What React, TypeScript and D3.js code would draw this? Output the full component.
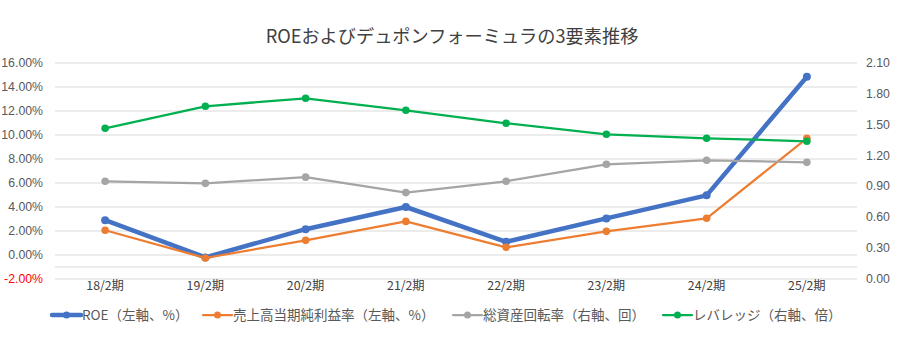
import React from "react";
import * as d3 from "d3";

const categories = ["18/2期", "19/2期", "20/2期", "21/2期", "22/2期", "23/2期", "24/2期", "25/2期"];
const roe = [2.9, -0.2, 2.15, 4.0, 1.1, 3.05, 4.97, 14.86];
const margin = [2.06, -0.25, 1.22, 2.8, 0.64, 1.97, 3.06, 9.72];
const turnover = [0.95, 0.93, 0.99, 0.84, 0.95, 1.115, 1.154, 1.134];
const leverage = [1.465, 1.679, 1.757, 1.64, 1.514, 1.407, 1.368, 1.339];
const leftTicks = [-2, 0, 2, 4, 6, 8, 10, 12, 14, 16];
const rightTicks = [0, 0.3, 0.6, 0.9, 1.2, 1.5, 1.8, 2.1];
const title = "ROEおよびデュポンフォーミュラの3要素推移";
const legendLabels = ["ROE（左軸、%）", "売上高当期純利益率（左軸、%）", "総資産回転率（右軸、回）", "レバレッジ（右軸、倍）"];

const W = 903, H = 337;
const plot = { left: 55, right: 857, top: 63, bottom: 279 };
const FONT = "'Liberation Sans', Arial, sans-serif";
const JFONT = "'Noto Sans CJK JP', 'Liberation Sans', sans-serif";

export default function App() {
  const x = d3.scaleBand<string>().domain(categories).range([plot.left, plot.right]).padding(0);
  const cx = (c: string) => (x(c) as number) + x.bandwidth() / 2;
  const yL = d3.scaleLinear().domain([-2, 16]).range([plot.bottom, plot.top]);
  const yR = d3.scaleLinear().domain([0, 2.1]).range([plot.bottom, plot.top]);

  const series = [
    { name: legendLabels[0], vals: roe, y: yL, color: "#4472C4", w: 4.5, r: 4 },
    { name: legendLabels[1], vals: margin, y: yL, color: "#ED7D31", w: 2.25, r: 3.8 },
    { name: legendLabels[2], vals: turnover, y: yR, color: "#A5A5A5", w: 2.25, r: 3.8 },
    { name: legendLabels[3], vals: leverage, y: yR, color: "#00B050", w: 2.25, r: 3.8 },
  ];

  const legendX = [52, 203, 453, 663];

  return (
    <svg width={W} height={H} style={{ position: "absolute", left: 0, top: 0, background: "#fff" }}>
      <rect x={0} y={0} width={W} height={H} fill="#fff" />
      <text x={452} y={43} textAnchor="middle" fontFamily={JFONT} fontSize={18.2} fill="#404040">{title}</text>
      {leftTicks.map((t) => (
        <line key={"g" + t} x1={plot.left} x2={plot.right} y1={yL(t)} y2={yL(t)} stroke="#D9D9D9" strokeWidth={1} />
      ))}
      <line x1={plot.left} x2={plot.right} y1={yL(-1)} y2={yL(-1)} stroke="#D9D9D9" strokeWidth={1} />
      {leftTicks.map((t) => (
        <text key={"l" + t} x={43} y={yL(t) + 4} textAnchor="end" fontFamily={FONT} fontSize={12.3} fill={t < 0 ? "#FF0000" : "#595959"}>
          {t.toFixed(2) + "%"}
        </text>
      ))}
      {rightTicks.map((t) => (
        <text key={"r" + t} x={866} y={yR(t) + 4} textAnchor="start" fontFamily={FONT} fontSize={12.3} fill="#595959">
          {t.toFixed(2)}
        </text>
      ))}
      {categories.map((c) => (
        <text key={c} x={cx(c)} y={290} textAnchor="middle" fontFamily={JFONT} fontSize={12.3} fill="#404040">{c}</text>
      ))}
      {series.map((s) => {
        const line = d3.line<number>().x((_, i) => cx(categories[i])).y((v) => s.y(v));
        return (
          <g key={s.name}>
            <path d={line(s.vals) || ""} fill="none" stroke={s.color} strokeWidth={s.w} strokeLinejoin="round" strokeLinecap="round" />
            {s.vals.map((v, i) => (
              <circle key={i} cx={cx(categories[i])} cy={s.y(v)} r={s.r} fill={s.color} />
            ))}
          </g>
        );
      })}
      {series.map((s, i) => (
        <g key={"lg" + i} transform={`translate(${legendX[i]},315)`}>
          <line x1={0} x2={29} y1={0} y2={0} stroke={s.color} strokeWidth={s.w} strokeLinecap="round" />
          <circle cx={14.5} cy={0} r={3.5} fill={s.color} />
          <text x={30} y={5} fontFamily={JFONT} fontSize={13.5} fill="#595959">{s.name}</text>
        </g>
      ))}
    </svg>
  );
}
